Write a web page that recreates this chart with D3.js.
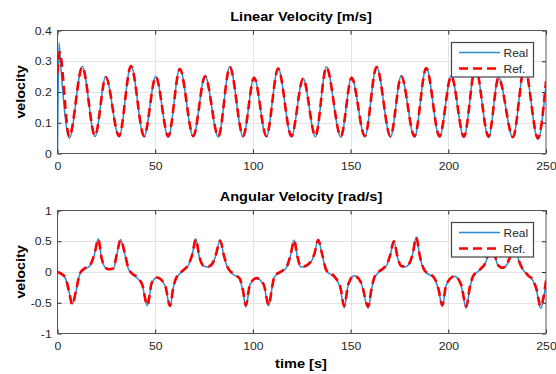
<!DOCTYPE html>
<html>
<head>
<meta charset="utf-8">
<script src="https://cdn.jsdelivr.net/npm/d3@7/dist/d3.min.js"></script>
<style>
  html, body { margin: 0; padding: 0; background: #fff; }
  svg { display: block; }
  text { font-family: "Liberation Sans", Arial, Helvetica, sans-serif; }
</style>
</head>
<body>
<svg id="chart" width="556" height="374"></svg>
<script>
// ---------------- DATA ----------------
const xTicks = [0, 50, 100, 150, 200, 250];
const linYTicks = [0, 0.1, 0.2, 0.3, 0.4];
const angYTicks = [-1, -0.5, 0, 0.5, 1];
const seriesNames = ["Real", "Ref."];
const titles = ["Linear Velocity [m/s]", "Angular Velocity [rad/s]"];

// Linear velocity – reference (red dashed)
const linRefTime = [0, 1, 6.0, 12.7, 19.2, 24.7, 31.5, 37.6, 44.3, 50.3, 56.7, 62.6, 69.5, 75.5, 82.3, 88.2,
  95.0, 100.6, 106.9, 112.9, 119.7, 125.7, 132.0, 137.6, 145.0, 150.5, 157.3, 163.3, 170.4, 175.9,
  182.7, 188.7, 195.5, 201.5, 208.0, 213.9, 220.6, 225.7, 233.1, 239.0, 245.9, 250];
const linRef = [0.26, 0.33, 0.055, 0.281, 0.058, 0.248, 0.057, 0.284, 0.057, 0.249, 0.056, 0.275, 0.057, 0.251, 0.056, 0.281,
  0.057, 0.246, 0.057, 0.276, 0.057, 0.243, 0.057, 0.280, 0.056, 0.246, 0.057, 0.281, 0.056, 0.251,
  0.056, 0.278, 0.056, 0.252, 0.055, 0.280, 0.055, 0.246, 0.054, 0.280, 0.050, 0.235];

// Linear velocity – real (blue solid)
const linRealTime = [0, 0.8, 1.6, 6.1, 12.7, 19.2, 24.7, 31.5, 37.6, 44.3, 50.3, 56.7, 62.6, 69.5, 75.5, 82.3, 88.2,
  95.0, 100.6, 106.9, 112.9, 119.7, 125.7, 132.0, 137.6, 145.0, 150.5, 157.3, 163.3, 170.4, 175.9,
  182.7, 188.7, 195.5, 201.5, 208.0, 213.9, 220.6, 225.7, 233.1, 239.0, 245.9, 250];
const linReal = [0, 0.36, 0.29, 0.050, 0.284, 0.055, 0.250, 0.054, 0.286, 0.054, 0.251, 0.053, 0.277, 0.054, 0.253, 0.053, 0.283,
  0.054, 0.248, 0.054, 0.278, 0.054, 0.245, 0.054, 0.282, 0.053, 0.248, 0.054, 0.283, 0.053, 0.253,
  0.053, 0.280, 0.053, 0.254, 0.052, 0.282, 0.052, 0.248, 0.051, 0.282, 0.046, 0.225];

// Angular velocity – sample times
const angTime = [0, 2, 4, 5.8, 7.6, 9.5, 11.5, 14, 16.6, 18.8, 20.9, 22.6, 24.2, 26, 28.6, 30.3, 32.3, 34.6, 36.3, 38,
  40.5, 43.4, 46, 48.2, 50.8, 55, 57.6, 59.3, 61, 64.4, 67, 68.9, 70.8, 72.6, 74.5, 77.2, 79.5, 81.2, 83.2, 85.3,
  87.3, 90, 93.3, 94.8, 96.4, 98.5, 101.8, 105.5, 108.1, 109.8, 111, 115.5, 117.5, 119.3, 121.1, 122.8, 124.3, 125.7,
  128.5, 131.5, 133.4, 135.5, 137.6, 141.9, 144.8, 146.7, 148.8, 151.8, 155.5, 159, 160.8, 162.4, 166.7, 168.5,
  170.3, 172.1, 174, 175.8, 177.6, 180, 181.8, 183.6, 185.5, 187.8, 192.9, 195, 196.9, 199, 203.2, 206.5, 209.2,
  211, 212.6, 216.8, 218.5, 220.3, 222.2, 224, 225.8, 227.7, 230, 232, 233.9, 236, 240.7, 243.3, 245.3, 247.2, 250];
// Angular velocity – reference (red dashed)
const angRef = [0, -0.03, -0.09, -0.3, -0.53, -0.3, -0.02, 0.06, 0.11, 0.28, 0.53, 0.22, 0.09, 0.045, 0.06, 0.28, 0.52, 0.28, 0.06, -0.02,
  -0.08, -0.21, -0.54, -0.18, -0.09, -0.21, -0.55, -0.24, -0.08, 0.03, 0.12, 0.28, 0.53, 0.25, 0.11, 0.09, 0.15, 0.3, 0.51, 0.25,
  0.06, -0.03, -0.11, -0.28, -0.54, -0.2, -0.1, -0.2, -0.54, -0.25, -0.07, 0.03, 0.1, 0.28, 0.51, 0.25, 0.1, 0.09,
  0.13, 0.3, 0.52, 0.28, 0.03, -0.08, -0.25, -0.55, -0.2, -0.06, -0.18, -0.56, -0.25, -0.07, 0.06, 0.12,
  0.28, 0.5, 0.25, 0.1, 0.09, 0.14, 0.3, 0.56, 0.25, 0.03, -0.1, -0.28, -0.54, -0.2, -0.07, -0.2, -0.56,
  -0.25, -0.07, 0.06, 0.12, 0.28, 0.5, 0.25, 0.1, 0.07, 0.13, 0.28, 0.5, 0.2, -0.05, -0.13, -0.3, -0.56, -0.14];
// Angular velocity – real (blue solid)
const angReal = [0, -0.04, -0.1, -0.31, -0.52, -0.31, -0.03, 0.05, 0.1, 0.27, 0.54, 0.21, 0.08, 0.04, 0.05, 0.27, 0.53, 0.27, 0.05, -0.03,
  -0.09, -0.22, -0.55, -0.19, -0.09, -0.22, -0.56, -0.25, -0.09, 0.02, 0.11, 0.27, 0.54, 0.24, 0.1, 0.08, 0.14, 0.29, 0.52, 0.24,
  0.05, -0.04, -0.12, -0.3, -0.57, -0.21, -0.1, -0.21, -0.55, -0.26, -0.08, 0.02, 0.09, 0.27, 0.52, 0.24, 0.09, 0.08,
  0.12, 0.29, 0.53, 0.27, 0.02, -0.09, -0.27, -0.58, -0.21, -0.06, -0.19, -0.59, -0.27, -0.08, 0.05, 0.11,
  0.27, 0.51, 0.24, 0.09, 0.08, 0.13, 0.29, 0.57, 0.24, 0.02, -0.11, -0.29, -0.56, -0.21, -0.07, -0.21, -0.59,
  -0.27, -0.08, 0.05, 0.11, 0.27, 0.51, 0.24, 0.09, 0.06, 0.12, 0.27, 0.51, 0.19, -0.06, -0.14, -0.32, -0.59, -0.18];

// ---------------- DRAW ----------------
const svg = d3.select("#chart");
const X0 = 57.5, X1 = 546;
const panels = [
  { top: 30.5, bottom: 153.5, domain: [0, 0.4], yTicks: linYTicks, title: titles[0],
    real: linRealTime.map((t, i) => [t, linReal[i]]), ref: linRefTime.map((t, i) => [t, linRef[i]]), xlabel: false },
  { top: 210.5, bottom: 333.5, domain: [-1, 1], yTicks: angYTicks, title: titles[1],
    real: angTime.map((t, i) => [t, angReal[i]]), ref: angTime.map((t, i) => [t, angRef[i]]), xlabel: true }
];

const x = d3.scaleLinear().domain([0, 250]).range([X0, X1]);
const AX = "#262626";
const fmt = d => String(d);

panels.forEach((p, k) => {
  const y = d3.scaleLinear().domain(p.domain).range([p.bottom, p.top]);
  const g = svg.append("g");
  const clipId = "clip" + k;
  svg.append("clipPath").attr("id", clipId).append("rect")
    .attr("x", X0).attr("y", p.top).attr("width", X1 - X0).attr("height", p.bottom - p.top);

  // background
  g.append("rect").attr("x", X0).attr("y", p.top).attr("width", X1 - X0).attr("height", p.bottom - p.top).attr("fill", "#fff");

  // grid
  g.append("g").selectAll("line").data(xTicks.slice(1, -1)).join("line")
    .attr("x1", d => Math.round(x(d)) + 0.5).attr("x2", d => Math.round(x(d)) + 0.5)
    .attr("y1", p.top).attr("y2", p.bottom).attr("stroke", "#e3e3e3").attr("stroke-width", 1);
  g.append("g").selectAll("line").data(p.yTicks.slice(1, -1)).join("line")
    .attr("y1", d => Math.round(y(d)) + 0.5).attr("y2", d => Math.round(y(d)) + 0.5)
    .attr("x1", X0).attr("x2", X1).attr("stroke", "#e3e3e3").attr("stroke-width", 1);

  // axes (ticks inside)
  const styleAxis = sel => {
    sel.select(".domain").remove();
    sel.selectAll(".tick line").attr("stroke", AX).attr("stroke-width", 1);
    sel.selectAll(".tick text").attr("fill", AX).style("font-size", "11.5px");
  };
  g.append("g").attr("transform", `translate(0,${p.bottom})`)
    .call(d3.axisBottom(x).tickValues(xTicks).tickFormat(fmt).tickSizeInner(-4).tickSizeOuter(0).tickPadding(8))
    .call(styleAxis);
  g.append("g").attr("transform", `translate(0,${p.top})`)
    .call(d3.axisTop(x).tickValues(xTicks).tickFormat("").tickSizeInner(-4).tickSizeOuter(0))
    .call(styleAxis);
  g.append("g").attr("transform", `translate(${X0},0)`)
    .call(d3.axisLeft(y).tickValues(p.yTicks).tickFormat(fmt).tickSizeInner(-4).tickSizeOuter(0).tickPadding(5.5))
    .call(styleAxis);
  g.append("g").attr("transform", `translate(${X1},0)`)
    .call(d3.axisRight(y).tickValues(p.yTicks).tickFormat("").tickSizeInner(-4).tickSizeOuter(0))
    .call(styleAxis);
  g.selectAll(".tick text").attr("transform", "scale(1.06,1)");

  // lines
  const line = d3.line().x(d => x(d[0])).y(d => y(d[1])).curve(d3.curveMonotoneX);
  const lg = g.append("g").attr("clip-path", `url(#${clipId})`);
  lg.append("path").attr("d", line(p.real)).attr("fill", "none")
    .attr("stroke", "#2a8cd4").attr("stroke-width", 1.5).attr("stroke-linejoin", "round");
  lg.append("path").attr("d", line(p.ref)).attr("fill", "none")
    .attr("stroke", "#ff0000").attr("stroke-width", 2.6).attr("stroke-dasharray", "9,5");

  // box
  g.append("rect").attr("x", X0).attr("y", p.top).attr("width", X1 - X0).attr("height", p.bottom - p.top)
    .attr("fill", "none").attr("stroke", "#555").attr("stroke-width", 1);

  // title
  g.append("text").attr("transform", `translate(301,${p.top - 9.5}) scale(1.12,1)`)
    .attr("text-anchor", "middle").style("font-size", "13px").style("font-weight", "bold")
    .attr("fill", "#000").text(p.title);

  // y label
  const cy = (p.top + p.bottom) / 2;
  g.append("text").attr("transform", `translate(25,${cy}) rotate(-90) scale(1.1,1)`)
    .attr("text-anchor", "middle").style("font-size", "13px").style("font-weight", "bold")
    .attr("fill", "#000").text("velocity");

  // legend
  const lx = 451.5, ly = p.top + 12, lw = 82, lh = 34.5;
  const leg = g.append("g");
  leg.append("rect").attr("x", lx).attr("y", ly).attr("width", lw).attr("height", lh)
    .attr("fill", "#fff").attr("stroke", "#444").attr("stroke-width", 1.2);
  const rows = [
    { name: seriesNames[0], color: "#2a8cd4", w: 1.5, dash: null, dy: 10 },
    { name: seriesNames[1], color: "#ff0000", w: 2.6, dash: "9,5", dy: 26 }
  ];
  rows.forEach(r => {
    leg.append("line").attr("x1", 459).attr("x2", 500).attr("y1", ly + r.dy).attr("y2", ly + r.dy)
      .attr("stroke", r.color).attr("stroke-width", r.w).attr("stroke-dasharray", r.dash);
    leg.append("text").attr("transform", `translate(503.5,${ly + r.dy + 4.2}) scale(1.04,1)`)
      .style("font-size", "11.5px").attr("fill", AX).text(r.name);
  });

  if (p.xlabel) {
    g.append("text").attr("transform", `translate(301,368) scale(1.12,1)`)
      .attr("text-anchor", "middle").style("font-size", "13px").style("font-weight", "bold")
      .attr("fill", "#000").text("time [s]");
  }
});
</script>
</body>
</html>
